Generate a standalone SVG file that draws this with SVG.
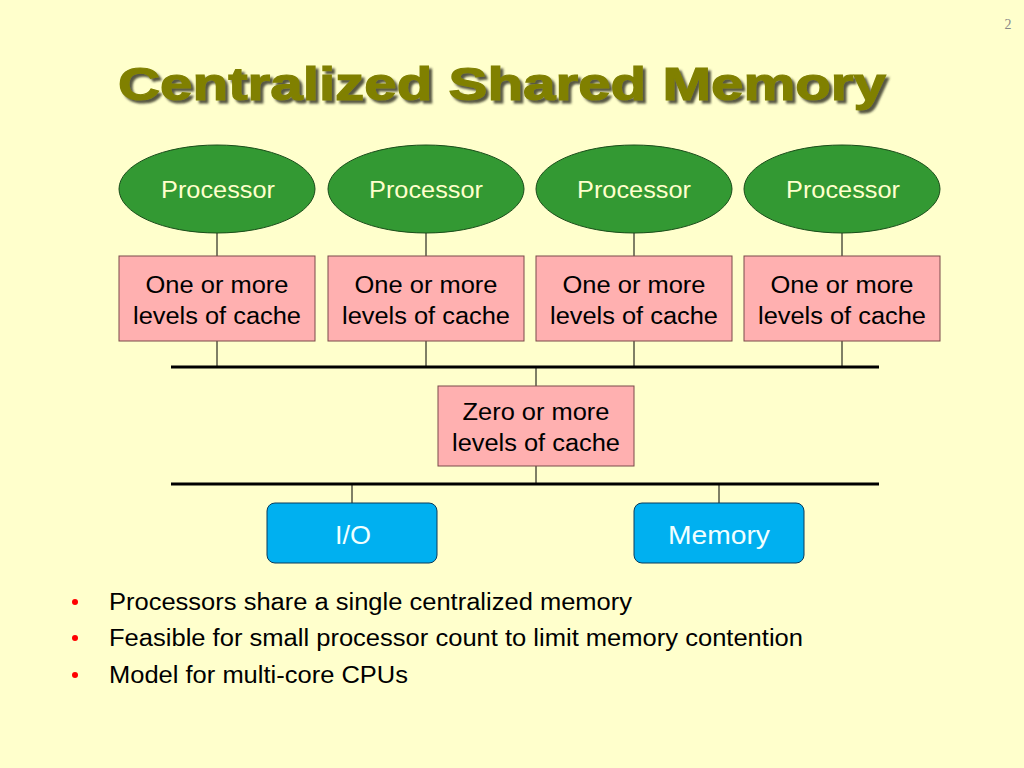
<svg xmlns="http://www.w3.org/2000/svg" width="1024" height="768" viewBox="0 0 1024 768">
<defs>
<filter id="shadow" x="-5%" y="-20%" width="110%" height="150%">
<feDropShadow dx="3" dy="3" stdDeviation="1" flood-color="#3a3a2a" flood-opacity="0.85"/>
</filter>
</defs>
<style>
.proc{fill:#339933;stroke:#1a4d1a;stroke-width:1}
.ptxt{font-family:"Liberation Sans",Arial,sans-serif;font-size:23px;fill:#FFFFCC;text-anchor:middle}
.cache{fill:#FFB0B0;stroke:#7a4a4a;stroke-width:1}
.ctxt{font-family:"Liberation Sans",Arial,sans-serif;font-size:23px;fill:#000;text-anchor:middle}
.dev{fill:#00B0F0;stroke:#0a3a5a;stroke-width:1}
.dtxt{font-family:"Liberation Sans",Arial,sans-serif;font-size:25px;fill:#F0FFFF;text-anchor:middle}
.ln{stroke:#000;stroke-width:1;fill:none}
.bus{stroke:#000;stroke-width:3;fill:none}
.btxt{font-family:"Liberation Sans",Arial,sans-serif;font-size:23px;fill:#000}
.title{font-family:"Liberation Sans",Arial,sans-serif;font-size:46px;font-weight:bold}
</style>
<rect width="1024" height="768" fill="#FFFFCC"/>
<text x="1008" y="29" font-family="Liberation Serif,serif" font-size="14" fill="#888" text-anchor="middle">2</text>
<g id="title">
<text class="title" x="118" y="100" fill="#808000" textLength="768" lengthAdjust="spacingAndGlyphs" stroke="#808000" stroke-width="1.2" filter="url(#shadow)">Centralized Shared Memory</text>
</g>
<g id="connectors">
<line class="ln" x1="217" y1="233" x2="217" y2="256"/>
<line class="ln" x1="426" y1="233" x2="426" y2="256"/>
<line class="ln" x1="634" y1="233" x2="634" y2="256"/>
<line class="ln" x1="842" y1="233" x2="842" y2="256"/>
<line class="ln" x1="217" y1="341" x2="217" y2="367"/>
<line class="ln" x1="426" y1="341" x2="426" y2="367"/>
<line class="ln" x1="634" y1="341" x2="634" y2="367"/>
<line class="ln" x1="842" y1="341" x2="842" y2="367"/>
<line class="bus" x1="171" y1="367" x2="879" y2="367"/>
<line class="ln" x1="536" y1="367" x2="536" y2="386"/>
<line class="ln" x1="536" y1="466" x2="536" y2="484"/>
<line class="bus" x1="171" y1="484" x2="879" y2="484"/>
<line class="ln" x1="352" y1="484" x2="352" y2="503"/>
<line class="ln" x1="719" y1="484" x2="719" y2="503"/>
</g>
<g id="proc1"><ellipse class="proc" cx="217" cy="189" rx="98" ry="44"/><text class="ptxt" x="218" y="198" textLength="114" lengthAdjust="spacingAndGlyphs">Processor</text></g>
<g id="proc2"><ellipse class="proc" cx="426" cy="189" rx="98" ry="44"/><text class="ptxt" x="426" y="198" textLength="114" lengthAdjust="spacingAndGlyphs">Processor</text></g>
<g id="proc3"><ellipse class="proc" cx="634" cy="189" rx="98" ry="44"/><text class="ptxt" x="634" y="198" textLength="114" lengthAdjust="spacingAndGlyphs">Processor</text></g>
<g id="proc4"><ellipse class="proc" cx="842" cy="189" rx="98" ry="44"/><text class="ptxt" x="843" y="198" textLength="114" lengthAdjust="spacingAndGlyphs">Processor</text></g>
<g id="cache1"><rect class="cache" x="119" y="256" width="196" height="85"/><text class="ctxt" x="217" y="293" textLength="143" lengthAdjust="spacingAndGlyphs">One or more</text><text class="ctxt" x="217" y="324" textLength="168" lengthAdjust="spacingAndGlyphs">levels of cache</text></g>
<g id="cache2"><rect class="cache" x="328" y="256" width="196" height="85"/><text class="ctxt" x="426" y="293" textLength="143" lengthAdjust="spacingAndGlyphs">One or more</text><text class="ctxt" x="426" y="324" textLength="168" lengthAdjust="spacingAndGlyphs">levels of cache</text></g>
<g id="cache3"><rect class="cache" x="536" y="256" width="196" height="85"/><text class="ctxt" x="634" y="293" textLength="143" lengthAdjust="spacingAndGlyphs">One or more</text><text class="ctxt" x="634" y="324" textLength="168" lengthAdjust="spacingAndGlyphs">levels of cache</text></g>
<g id="cache4"><rect class="cache" x="744" y="256" width="196" height="85"/><text class="ctxt" x="842" y="293" textLength="143" lengthAdjust="spacingAndGlyphs">One or more</text><text class="ctxt" x="842" y="324" textLength="168" lengthAdjust="spacingAndGlyphs">levels of cache</text></g>
<g id="shared-cache"><rect class="cache" x="438" y="386" width="196" height="80"/><text class="ctxt" x="536" y="420" textLength="147" lengthAdjust="spacingAndGlyphs">Zero or more</text><text class="ctxt" x="536" y="451" textLength="168" lengthAdjust="spacingAndGlyphs">levels of cache</text></g>
<g id="io"><rect class="dev" x="267" y="503" width="170" height="60" rx="8"/><text class="dtxt" x="353" y="544" textLength="36" lengthAdjust="spacingAndGlyphs">I/O</text></g>
<g id="memory"><rect class="dev" x="634" y="503" width="170" height="60" rx="8"/><text class="dtxt" x="719" y="544" textLength="102" lengthAdjust="spacingAndGlyphs">Memory</text></g>
<g id="bullets">
<circle cx="75" cy="602" r="3" fill="#FF0000"/>
<circle cx="75" cy="638" r="3" fill="#FF0000"/>
<circle cx="75" cy="675" r="3" fill="#FF0000"/>
<text class="btxt" x="109" y="610" textLength="523" lengthAdjust="spacingAndGlyphs">Processors share a single centralized memory</text>
<text class="btxt" x="109" y="646" textLength="694" lengthAdjust="spacingAndGlyphs">Feasible for small processor count to limit memory contention</text>
<text class="btxt" x="109" y="683" textLength="299" lengthAdjust="spacingAndGlyphs">Model for multi-core CPUs</text>
</g>
</svg>
